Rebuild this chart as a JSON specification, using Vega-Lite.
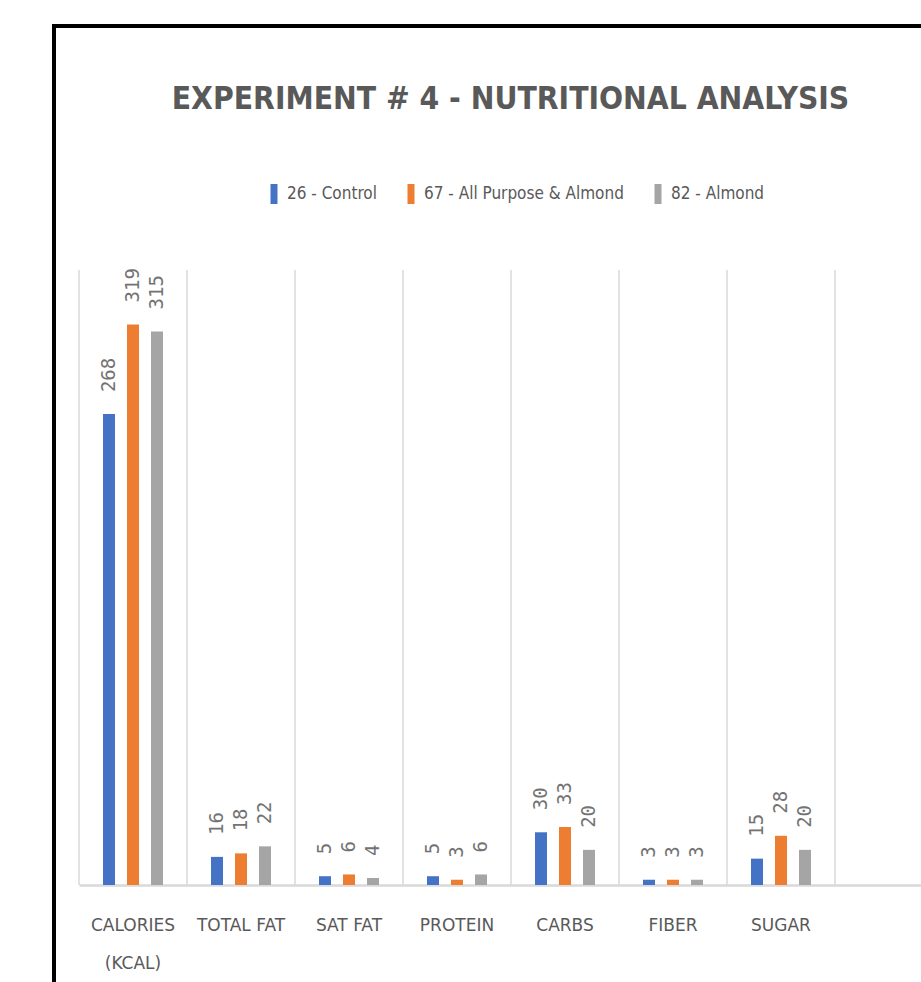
{
  "$schema": "https://vega.github.io/schema/vega-lite/v6.json",
  "width": 877,
  "height": 966,
  "autosize": {"type": "none"},
  "padding": {"left": 54, "top": 26, "right": -10, "bottom": -10},
  "background": "white",
  "view": {"stroke": "black", "strokeWidth": 4, "fill": "white"},
  "title": {
    "text": "EXPERIMENT # 4 - NUTRITIONAL ANALYSIS",
    "font": "DejaVu Sans Condensed, DejaVu Sans, sans-serif",
    "fontSize": 31.5,
    "fontWeight": "bold",
    "color": "#595959",
    "anchor": "middle",
    "frame": "group",
    "baseline": "alphabetic",
    "dx": 18,
    "offset": -114
  },
  "datasets": {
    "nutrition": [
      {"nutrient": "CALORIES (KCAL)", "series": "26 - Control", "value": 268},
      {"nutrient": "CALORIES (KCAL)", "series": "67 - All Purpose & Almond", "value": 319},
      {"nutrient": "CALORIES (KCAL)", "series": "82 - Almond", "value": 315},
      {"nutrient": "TOTAL FAT", "series": "26 - Control", "value": 16},
      {"nutrient": "TOTAL FAT", "series": "67 - All Purpose & Almond", "value": 18},
      {"nutrient": "TOTAL FAT", "series": "82 - Almond", "value": 22},
      {"nutrient": "SAT FAT", "series": "26 - Control", "value": 5},
      {"nutrient": "SAT FAT", "series": "67 - All Purpose & Almond", "value": 6},
      {"nutrient": "SAT FAT", "series": "82 - Almond", "value": 4},
      {"nutrient": "PROTEIN", "series": "26 - Control", "value": 5},
      {"nutrient": "PROTEIN", "series": "67 - All Purpose & Almond", "value": 3},
      {"nutrient": "PROTEIN", "series": "82 - Almond", "value": 6},
      {"nutrient": "CARBS", "series": "26 - Control", "value": 30},
      {"nutrient": "CARBS", "series": "67 - All Purpose & Almond", "value": 33},
      {"nutrient": "CARBS", "series": "82 - Almond", "value": 20},
      {"nutrient": "FIBER", "series": "26 - Control", "value": 3},
      {"nutrient": "FIBER", "series": "67 - All Purpose & Almond", "value": 3},
      {"nutrient": "FIBER", "series": "82 - Almond", "value": 3},
      {"nutrient": "SUGAR", "series": "26 - Control", "value": 15},
      {"nutrient": "SUGAR", "series": "67 - All Purpose & Almond", "value": 28},
      {"nutrient": "SUGAR", "series": "82 - Almond", "value": 20}
    ],
    "categories": [
      {"nutrient": "CALORIES (KCAL)"},
      {"nutrient": "TOTAL FAT"},
      {"nutrient": "SAT FAT"},
      {"nutrient": "PROTEIN"},
      {"nutrient": "CARBS"},
      {"nutrient": "FIBER"},
      {"nutrient": "SUGAR"},
      {"nutrient": ""}
    ]
  },
  "layer": [
    {
      "data": {"name": "categories"},
      "mark": {"type": "rule", "color": "#D9D9D9", "strokeWidth": 1.5},
      "encoding": {
        "x": {
          "field": "nutrient",
          "type": "nominal",
          "sort": null,
          "bandPosition": 0,
          "scale": {
            "domain": ["CALORIES (KCAL)", "TOTAL FAT", "SAT FAT", "PROTEIN", "CARBS", "FIBER", "SUGAR", ""],
            "range": [25, 889],
            "paddingInner": 0,
            "paddingOuter": 0
          },
          "axis": {
            "title": null,
            "grid": false,
            "ticks": false,
            "offset": -107,
            "domainColor": "#D9D9D9",
            "domainWidth": 2.5,
            "labelAngle": 0,
            "labelFont": "DejaVu Sans",
            "labelFontSize": 17,
            "labelColor": "#595959",
            "labelPadding": 32,
            "labelLineHeight": 38,
            "labelExpr": "datum.value == 'CALORIES (KCAL)' ? ['CALORIES', '(KCAL)'] : datum.value"
          }
        },
        "y": {
          "datum": 0,
          "type": "quantitative",
          "scale": {"domain": [0, 350], "range": [859, 244], "nice": false},
          "axis": null
        },
        "y2": {"datum": 350}
      }
    },
    {
      "data": {"name": "nutrition"},
      "mark": {"type": "bar"},
      "encoding": {
        "x": {"field": "nutrient", "type": "nominal", "sort": null},
        "xOffset": {
          "field": "series",
          "type": "nominal",
          "scale": {"paddingInner": 0.5, "paddingOuter": 1.2045}
        },
        "y": {"field": "value", "type": "quantitative"},
        "color": {
          "field": "series",
          "type": "nominal",
          "scale": {
            "domain": ["26 - Control", "67 - All Purpose & Almond", "82 - Almond"],
            "range": ["#4472C4", "#ED7D31", "#A5A5A5"]
          },
          "legend": {
            "title": null,
            "orient": "none",
            "direction": "horizontal",
            "legendX": 210,
            "legendY": 158,
            "symbolType": "M-0.35,-1H0.35V1H-0.35Z",
            "symbolSize": 400,
            "symbolStrokeWidth": 0,
            "labelFont": "DejaVu Sans Condensed, DejaVu Sans, sans-serif",
            "labelFontSize": 17,
            "labelColor": "#595959",
            "labelOffset": 3,
            "labelLimit": 400,
            "columnPadding": 24
          }
        }
      }
    },
    {
      "data": {"name": "nutrition"},
      "mark": {
        "type": "text",
        "angle": 270,
        "align": "left",
        "baseline": "middle",
        "dx": 22,
        "font": "DejaVu Sans Mono",
        "fontSize": 19,
        "color": "#737373"
      },
      "encoding": {
        "x": {"field": "nutrient", "type": "nominal", "sort": null},
        "xOffset": {"field": "series", "type": "nominal"},
        "y": {"field": "value", "type": "quantitative"},
        "text": {"field": "value", "type": "quantitative"}
      }
    }
  ]
}
